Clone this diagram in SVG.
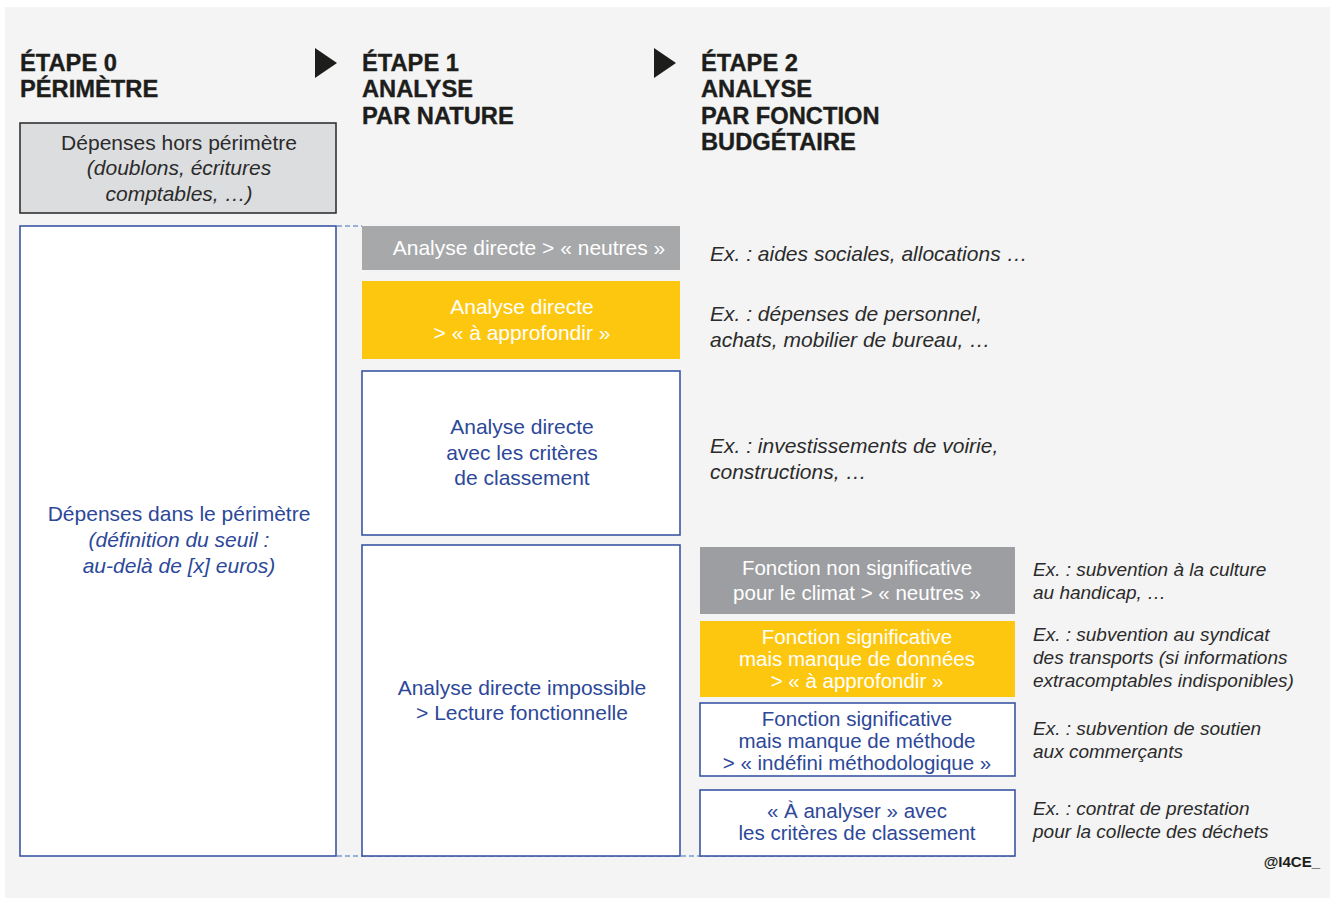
<svg xmlns="http://www.w3.org/2000/svg" width="1335" height="900" viewBox="0 0 1335 900">
<style>
text{font-family:"Liberation Sans",Arial,Helvetica,sans-serif}
.h{font-size:23.7px;font-weight:bold;fill:#1d1d1b;stroke:#1d1d1b;stroke-width:0.35}
.t{font-size:21px;text-anchor:middle}
.w{fill:#ffffff}
.b{fill:#2d4898}
.k{fill:#2b2b2b}
.i{font-style:italic}
.ex{font-size:21px;font-style:italic;fill:#2b2b2b}
.ex2{font-size:19px;font-style:italic;fill:#2b2b2b}
.t2{font-size:20.5px;text-anchor:middle}
.bx{fill:#ffffff;stroke:#3a55a4;stroke-width:1.6}
.dash{stroke:#7b9bd0;stroke-width:1.5;stroke-dasharray:5 3;fill:none}
</style>
<rect x="0" y="0" width="1335" height="900" fill="#ffffff"/>
<rect x="5" y="7" width="1325" height="891" fill="#f4f4f4"/>

<g id="headings">
<text class="h" x="20" y="71">ÉTAPE 0</text>
<text class="h" x="20" y="97">PÉRIMÈTRE</text>
<text class="h" x="362" y="71">ÉTAPE 1</text>
<text class="h" x="362" y="97">ANALYSE</text>
<text class="h" x="362" y="124">PAR NATURE</text>
<text class="h" x="701" y="71">ÉTAPE 2</text>
<text class="h" x="701" y="97">ANALYSE</text>
<text class="h" x="701" y="124">PAR FONCTION</text>
<text class="h" x="701" y="150">BUDGÉTAIRE</text>
</g>

<g id="connectors">
<polygon points="315,48 337,63 315,78" fill="#1d1d1b"/>
<polygon points="654,48 676,63 654,78" fill="#1d1d1b"/>
<line class="dash" x1="337" y1="226" x2="362" y2="226"/>
<line class="dash" x1="337" y1="856" x2="1015" y2="856"/>
</g>

<g id="hors-perimetre">
<rect x="20" y="123" width="316" height="90" fill="#dcdddf" stroke="#333333" stroke-width="1.6"/>
<text class="t k" x="179" y="150">Dépenses hors périmètre</text>
<text class="t k i" x="179" y="175">(doublons, écritures</text>
<text class="t k i" x="179" y="201">comptables, …)</text>
</g>

<g id="dans-perimetre">
<rect class="bx" x="20" y="226" width="316" height="630"/>
<text class="t b" x="179" y="521">Dépenses dans le périmètre</text>
<text class="t b i" x="179" y="547">(définition du seuil :</text>
<text class="t b i" x="179" y="573">au-delà de [x] euros)</text>
</g>

<g id="e1-neutres">
<rect x="362" y="226" width="318" height="44" fill="#a7a8aa"/>
<text class="t w" x="529" y="255">Analyse directe &gt; « neutres »</text>
</g>

<g id="e1-approfondir">
<rect x="362" y="281" width="318" height="78" fill="#fdc70f"/>
<text class="t w" x="522" y="314">Analyse directe</text>
<text class="t w" x="522" y="340">&gt; « à approfondir »</text>
</g>

<g id="e1-criteres">
<rect class="bx" x="362" y="371" width="318" height="164"/>
<text class="t b" x="522" y="434">Analyse directe</text>
<text class="t b" x="522" y="460">avec les critères</text>
<text class="t b" x="522" y="485">de classement</text>
</g>

<g id="e1-impossible">
<rect class="bx" x="362" y="545" width="318" height="311"/>
<text class="t b" x="522" y="695">Analyse directe impossible</text>
<text class="t b" x="522" y="720">&gt; Lecture fonctionnelle</text>
</g>

<g id="ex-e1">
<text class="ex" x="710" y="261">Ex. : aides sociales, allocations …</text>
<text class="ex" x="710" y="321">Ex. : dépenses de personnel,</text>
<text class="ex" x="710" y="347">achats, mobilier de bureau, …</text>
<text class="ex" x="710" y="453">Ex. : investissements de voirie,</text>
<text class="ex" x="710" y="479">constructions, …</text>
</g>

<g id="e2-neutres">
<rect x="700" y="547" width="315" height="67" fill="#9d9ea1"/>
<text class="t2 w" x="857" y="575">Fonction non significative</text>
<text class="t2 w" x="857" y="600">pour le climat &gt; « neutres »</text>
</g>

<g id="e2-approfondir">
<rect x="700" y="621" width="315" height="76" fill="#fdc70f"/>
<text class="t2 w" x="857" y="644">Fonction significative</text>
<text class="t2 w" x="857" y="666">mais manque de données</text>
<text class="t2 w" x="857" y="688">&gt; « à approfondir »</text>
</g>

<g id="e2-indefini">
<rect class="bx" x="700" y="703" width="315" height="73"/>
<text class="t2 b" x="857" y="726">Fonction significative</text>
<text class="t2 b" x="857" y="748">mais manque de méthode</text>
<text class="t2 b" x="857" y="770">&gt; « indéfini méthodologique »</text>
</g>

<g id="e2-analyser">
<rect class="bx" x="700" y="790" width="315" height="66"/>
<text class="t2 b" x="857" y="818">« À analyser » avec</text>
<text class="t2 b" x="857" y="840">les critères de classement</text>
</g>

<g id="ex-e2">
<text class="ex2" x="1033" y="576">Ex. : subvention à la culture</text>
<text class="ex2" x="1033" y="599">au handicap, …</text>
<text class="ex2" x="1033" y="641">Ex. : subvention au syndicat</text>
<text class="ex2" x="1033" y="664">des transports (si informations</text>
<text class="ex2" x="1033" y="687">extracomptables indisponibles)</text>
<text class="ex2" x="1033" y="735">Ex. : subvention de soutien</text>
<text class="ex2" x="1033" y="758">aux commerçants</text>
<text class="ex2" x="1033" y="815">Ex. : contrat de prestation</text>
<text class="ex2" x="1033" y="838">pour la collecte des déchets</text>
</g>

<g id="credit">
<text x="1320" y="867" font-size="15" font-weight="bold" fill="#1d1d1b" text-anchor="end">@I4CE_</text>
</g>
</svg>
